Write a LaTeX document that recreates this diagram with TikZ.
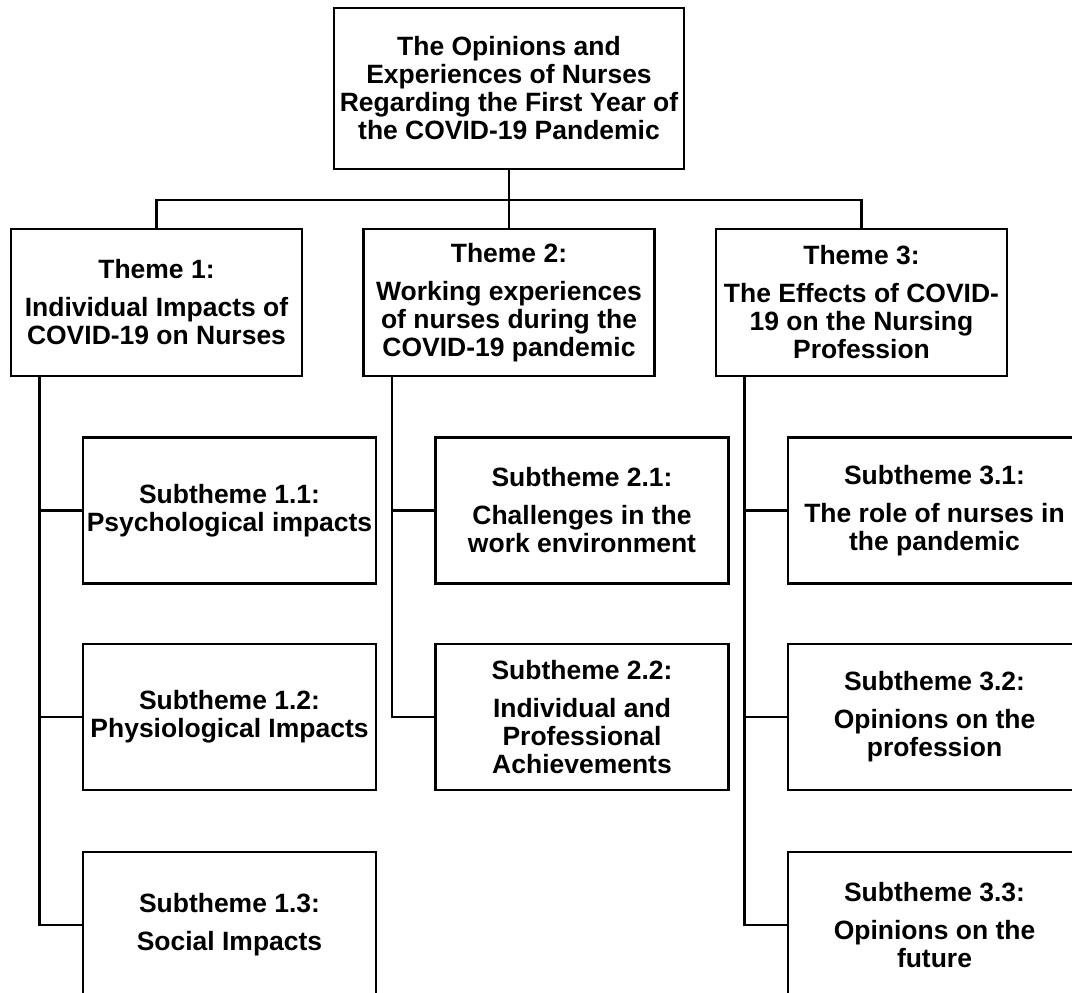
\documentclass[tikz,border=0pt]{standalone}
\usepackage{fontspec}
\setmainfont{Liberation Sans}
\usetikzlibrary{positioning}

\begin{document}
\begin{tikzpicture}[x=0.02cm,y=-0.02cm,
    box/.style={draw,line width=1.3pt,align=center,inner sep=0pt,
      font=\fontsize{15.07pt}{15.93pt}\selectfont\bfseries},
    mainbox/.style={box,minimum width=7cm,minimum height=3.22cm},
    themebox/.style={box,minimum width=5.82cm,minimum height=2.94cm},
    subbox/.style={box,minimum width=5.86cm,minimum height=2.92cm},
    conn/.style={line width=1.3pt}]
  \clip (0,0) rectangle (1072,993);
  \fill[white] (0,0) rectangle (1072,993);
  % root
  \node[mainbox] (top) at (509,88.5) {The Opinions and\\Experiences of Nurses\\Regarding the First Year of\\the COVID-19 Pandemic};
  % themes
  \node[themebox] (t1) at (156.5,302.5) {Theme 1:\\[5.7pt]Individual Impacts of\\COVID-19 on Nurses};
  \node[themebox] (t2) at (509,302.5) {Theme 2:\\[5.7pt]Working experiences\\of nurses during the\\COVID-19 pandemic};
  \node[themebox] (t3) at (861.5,302.5) {Theme 3:\\[5.7pt]The Effects of COVID-\\19 on the Nursing\\Profession};
  % subthemes
  \node[subbox] (s11) at (229.5,510.5) {Subtheme 1.1:\\Psychological impacts};
  \node[subbox] (s12) at (229.5,717) {Subtheme 1.2:\\Physiological Impacts};
  \node[subbox] (s13) at (229.5,925) {Subtheme 1.3:\\[5.7pt]Social Impacts};
  \node[subbox] (s21) at (582,510.5) {Subtheme 2.1:\\[5.7pt]Challenges in the\\work environment};
  \node[subbox] (s22) at (582,717) {Subtheme 2.2:\\[5.7pt]Individual and\\Professional\\Achievements};
  \node[subbox] (s31) at (934.5,510.5) {Subtheme 3.1:\\[5.7pt]The role of nurses in\\the pandemic};
  \node[subbox] (s32) at (934.5,717) {Subtheme 3.2:\\[5.7pt]Opinions on the\\profession};
  \node[subbox] (s33) at (934.5,925) {Subtheme 3.3:\\[5.7pt]Opinions on the\\future};
  % connectors
  \coordinate (bus) at (509,200);
  \draw[conn] (top.south) -- (bus);
  \foreach \t in {t1,t2,t3}
    \draw[conn] (bus) -| (\t.north);
  \foreach \t/\s in {t1/s11,t1/s12,t1/s13,t2/s21,t2/s22,t3/s31,t3/s32,t3/s33}
    \draw[conn] ([xshift=0.59cm]\t.south west) |- (\s.west);
\end{tikzpicture}
\end{document}
